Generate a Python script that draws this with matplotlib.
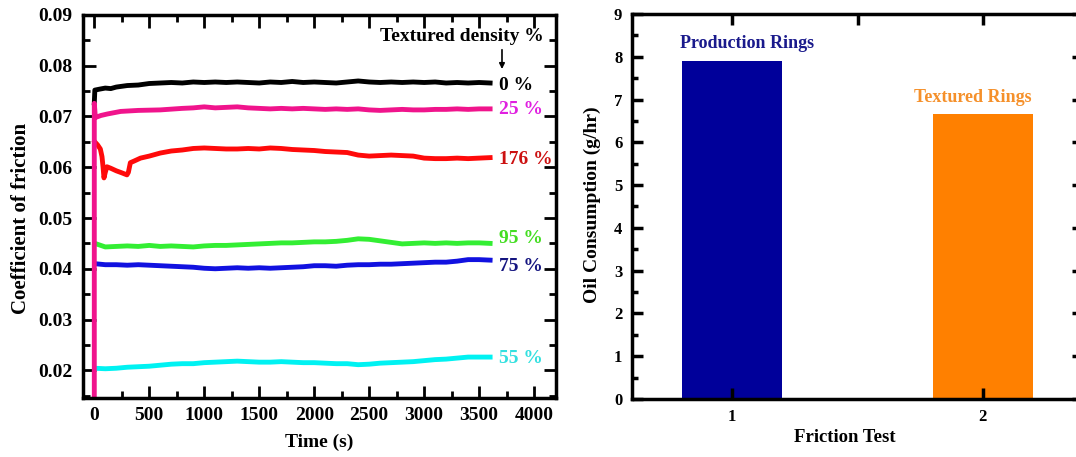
import matplotlib
matplotlib.use("Agg")
import matplotlib.pyplot as plt
from matplotlib.ticker import MultipleLocator

plt.rcParams['font.family'] = ['Liberation Serif', 'DejaVu Serif']
plt.rcParams['font.weight'] = 'bold'

# ---- friction curves (time in s, coefficient of friction) ----
t_0 = [0, 5, 50, 100, 150, 200, 300, 400, 500, 600, 700, 800, 900, 1000, 1100, 1200, 1300,
       1400, 1500, 1600, 1700, 1800, 1900, 2000, 2100, 2200, 2300, 2400, 2500, 2600, 2700,
       2800, 2900, 3000, 3100, 3200, 3300, 3400, 3500, 3600]
cof_0 = [0.0727, 0.0752, 0.0754, 0.0756, 0.0755, 0.0758, 0.0761, 0.0762, 0.0765, 0.0766,
         0.0767, 0.0766, 0.0768, 0.0767, 0.0768, 0.0767, 0.0768, 0.0767, 0.0766, 0.0768,
         0.0767, 0.0769, 0.0767, 0.0768, 0.0767, 0.0766, 0.0768, 0.0770, 0.0768, 0.0767,
         0.0768, 0.0767, 0.0768, 0.0767, 0.0768, 0.0766, 0.0767, 0.0766, 0.0767, 0.0766]

t_25 = [0, 0, 10, 60, 120, 240, 400, 600, 800, 900, 1000, 1100, 1200, 1300, 1400, 1500,
        1600, 1700, 1800, 1900, 2000, 2100, 2200, 2300, 2400, 2500, 2600, 2700, 2800, 2900,
        3000, 3100, 3200, 3300, 3400, 3500, 3600]
cof_25 = [0.0, 0.0726, 0.0698, 0.0702, 0.0705, 0.0710, 0.0712, 0.0713, 0.0716, 0.0717,
          0.0719, 0.0717, 0.0718, 0.0719, 0.0717, 0.0716, 0.0715, 0.0716, 0.0715, 0.0716,
          0.0715, 0.0714, 0.0715, 0.0714, 0.0715, 0.0713, 0.0712, 0.0713, 0.0714, 0.0713,
          0.0713, 0.0714, 0.0714, 0.0715, 0.0714, 0.0715, 0.0715]

t_176 = [5, 30, 55, 70, 80, 88, 100, 115, 150, 200, 250, 297, 310, 328, 360, 420, 500, 600,
         700, 800, 900, 1000, 1100, 1200, 1300, 1400, 1500, 1600, 1700, 1800, 1900, 2000,
         2100, 2200, 2300, 2400, 2500, 2600, 2700, 2800, 2900, 3000, 3100, 3200, 3300, 3400,
         3500, 3600]
cof_176 = [0.0650, 0.0644, 0.0636, 0.0621, 0.0600, 0.0579, 0.0590, 0.0601, 0.0598, 0.0593,
           0.0589, 0.0585, 0.0590, 0.0609, 0.0612, 0.0618, 0.0622, 0.0628, 0.0632, 0.0634,
           0.0637, 0.0638, 0.0637, 0.0636, 0.0636, 0.0637, 0.0636, 0.0638, 0.0637, 0.0635,
           0.0634, 0.0633, 0.0631, 0.0630, 0.0629, 0.0624, 0.0622, 0.0623, 0.0624, 0.0623,
           0.0622, 0.0618, 0.0617, 0.0617, 0.0618, 0.0617, 0.0618, 0.0619]

t_grid = [5, 100, 200, 300, 400, 500, 600, 700, 800, 900, 1000, 1100, 1200, 1300, 1400,
          1500, 1600, 1700, 1800, 1900, 2000, 2100, 2200, 2300, 2400, 2500, 2600, 2700, 2800,
          2900, 3000, 3100, 3200, 3300, 3400, 3500, 3600]
cof_95 = [0.0450, 0.0443, 0.0444, 0.0445, 0.0444, 0.0446, 0.0444, 0.0445, 0.0444, 0.0443,
          0.0445, 0.0446, 0.0446, 0.0447, 0.0448, 0.0449, 0.0450, 0.0451, 0.0451, 0.0452,
          0.0453, 0.0453, 0.0454, 0.0456, 0.0459, 0.0458, 0.0455, 0.0452, 0.0449, 0.0450,
          0.0451, 0.0450, 0.0451, 0.0450, 0.0451, 0.0451, 0.0450]
cof_75 = [0.0410, 0.0408, 0.0408, 0.0407, 0.0408, 0.0407, 0.0406, 0.0405, 0.0404, 0.0403,
          0.0401, 0.0400, 0.0401, 0.0402, 0.0401, 0.0402, 0.0401, 0.0402, 0.0403, 0.0404,
          0.0406, 0.0406, 0.0405, 0.0407, 0.0408, 0.0408, 0.0409, 0.0409, 0.0410, 0.0411,
          0.0412, 0.0413, 0.0413, 0.0415, 0.0418, 0.0418, 0.0417]
cof_55 = [0.0204, 0.0203, 0.0204, 0.0206, 0.0207, 0.0208, 0.0210, 0.0212, 0.0213, 0.0213,
          0.0215, 0.0216, 0.0217, 0.0218, 0.0217, 0.0216, 0.0216, 0.0217, 0.0216, 0.0215,
          0.0215, 0.0214, 0.0213, 0.0213, 0.0211, 0.0212, 0.0214, 0.0215, 0.0216, 0.0217,
          0.0219, 0.0221, 0.0222, 0.0224, 0.0226, 0.0226, 0.0226]

t_spike = [-15, -15]
cof_spike = [0.0, 0.028]

# ---- oil consumption ----
tests = [1, 2]
oil = [7.9, 6.67]
ring_names = ['Production Rings', 'Textured Rings']

fig = plt.figure(figsize=(10.76, 4.57), dpi=100)

# ================= left: coefficient of friction =================
ax = fig.add_axes([0.0767, 0.1298, 0.4396, 0.8374])
ax.plot(t_spike, cof_spike, color='#777777', lw=1)
ax.plot(t_grid, cof_55, color='#00f2f2', lw=3.5)
ax.plot(t_grid, cof_75, color='#1111e0', lw=3.5)
ax.plot(t_grid, cof_95, color='#33ee33', lw=3.5)
ax.plot(t_176, cof_176, color='#ff0a0a', lw=3.5)
ax.plot(t_0, cof_0, color='black', lw=3.5)
ax.plot(t_25, cof_25, color='#f0148c', lw=3.5)

ax.set_xlim(-107, 4195)
ax.set_ylim(0.0146, 0.09)
ax.xaxis.set_major_locator(MultipleLocator(500))
ax.xaxis.set_minor_locator(MultipleLocator(250))
ax.yaxis.set_major_locator(MultipleLocator(0.01))
ax.yaxis.set_minor_locator(MultipleLocator(0.005))
ax.tick_params(which='both', direction='in', top=True, right=True, width=2, labelsize=14, pad=7)
ax.tick_params(which='major', length=9)
ax.tick_params(which='minor', length=5)
ax.xaxis.set_major_formatter(plt.FuncFormatter(lambda v, p: f'{v:.0f}'))
ax.yaxis.set_major_formatter(plt.FuncFormatter(lambda v, p: f'{v:.2f}'))
for s in ax.spines.values():
    s.set_linewidth(2.5)

ax.set_xlabel('Time (s)', fontsize=14, fontweight='bold', va='center')
ax.xaxis.set_label_coords(0.5, -0.118)
ax.set_ylabel('Coefficient of friction', fontsize=15, fontweight='bold', va='center')
ax.yaxis.set_label_coords(-0.13, 0.468)

ax.text(4091, 0.0857, 'Textured density %', fontsize=14, ha='right', va='center')
ax.annotate('', xy=(3708, 0.0788), xytext=(3708, 0.0837),
            arrowprops=dict(arrowstyle='-|>', color='black', lw=1.2, mutation_scale=8))
labels = [('0 %', 0.0762, 'black'), ('25 %', 0.0713, '#e020e0'), ('176 %', 0.0615, '#cc1111'),
          ('95 %', 0.0460, '#44dd22'), ('75 %', 0.0404, '#151580'), ('55 %', 0.0223, '#33e0e0')]
for txt, yv, c in labels:
    ax.text(3680, yv, txt, fontsize=14, color=c, ha='left', va='center')

# ================= right: oil consumption =================
ax2 = fig.add_axes([0.5874, 0.1269, 0.4191, 0.8425])
bars = ax2.bar(tests, oil, width=0.4, color=['#00009a', '#ff8000'])
ax2.set_xlim(0.6, 2.4)
ax2.set_ylim(0, 9)
ax2.set_xticks(tests)
ax2.xaxis.set_minor_locator(MultipleLocator(0.5))
ax2.yaxis.set_major_locator(MultipleLocator(1))
ax2.yaxis.set_minor_locator(MultipleLocator(0.5))
ax2.tick_params(which='both', direction='in', top=True, right=True, width=2.5, labelsize=12, pad=7)
ax2.tick_params(which='major', length=8)
ax2.tick_params(axis='x', which='minor', bottom=False, top=True, length=8)
ax2.tick_params(axis='y', which='minor', right=False, length=4)
for s in ax2.spines.values():
    s.set_linewidth(2.5)

ax2.set_xlabel('Friction Test', fontsize=13.5, fontweight='bold', va='center')
ax2.xaxis.set_label_coords(0.472, -0.099)
ax2.set_ylabel('Oil Consumption (g/hr)', fontsize=14, fontweight='bold', va='center')
ax2.yaxis.set_label_coords(-0.089, 0.505)

ax2.text(1.06, 8.3, ring_names[0], color='#1a1a8c', fontsize=13, ha='center', va='center')
ax2.text(1.96, 7.05, ring_names[1], color='#f5902a', fontsize=13, ha='center', va='center')

fig.savefig('out.png', dpi=100)
